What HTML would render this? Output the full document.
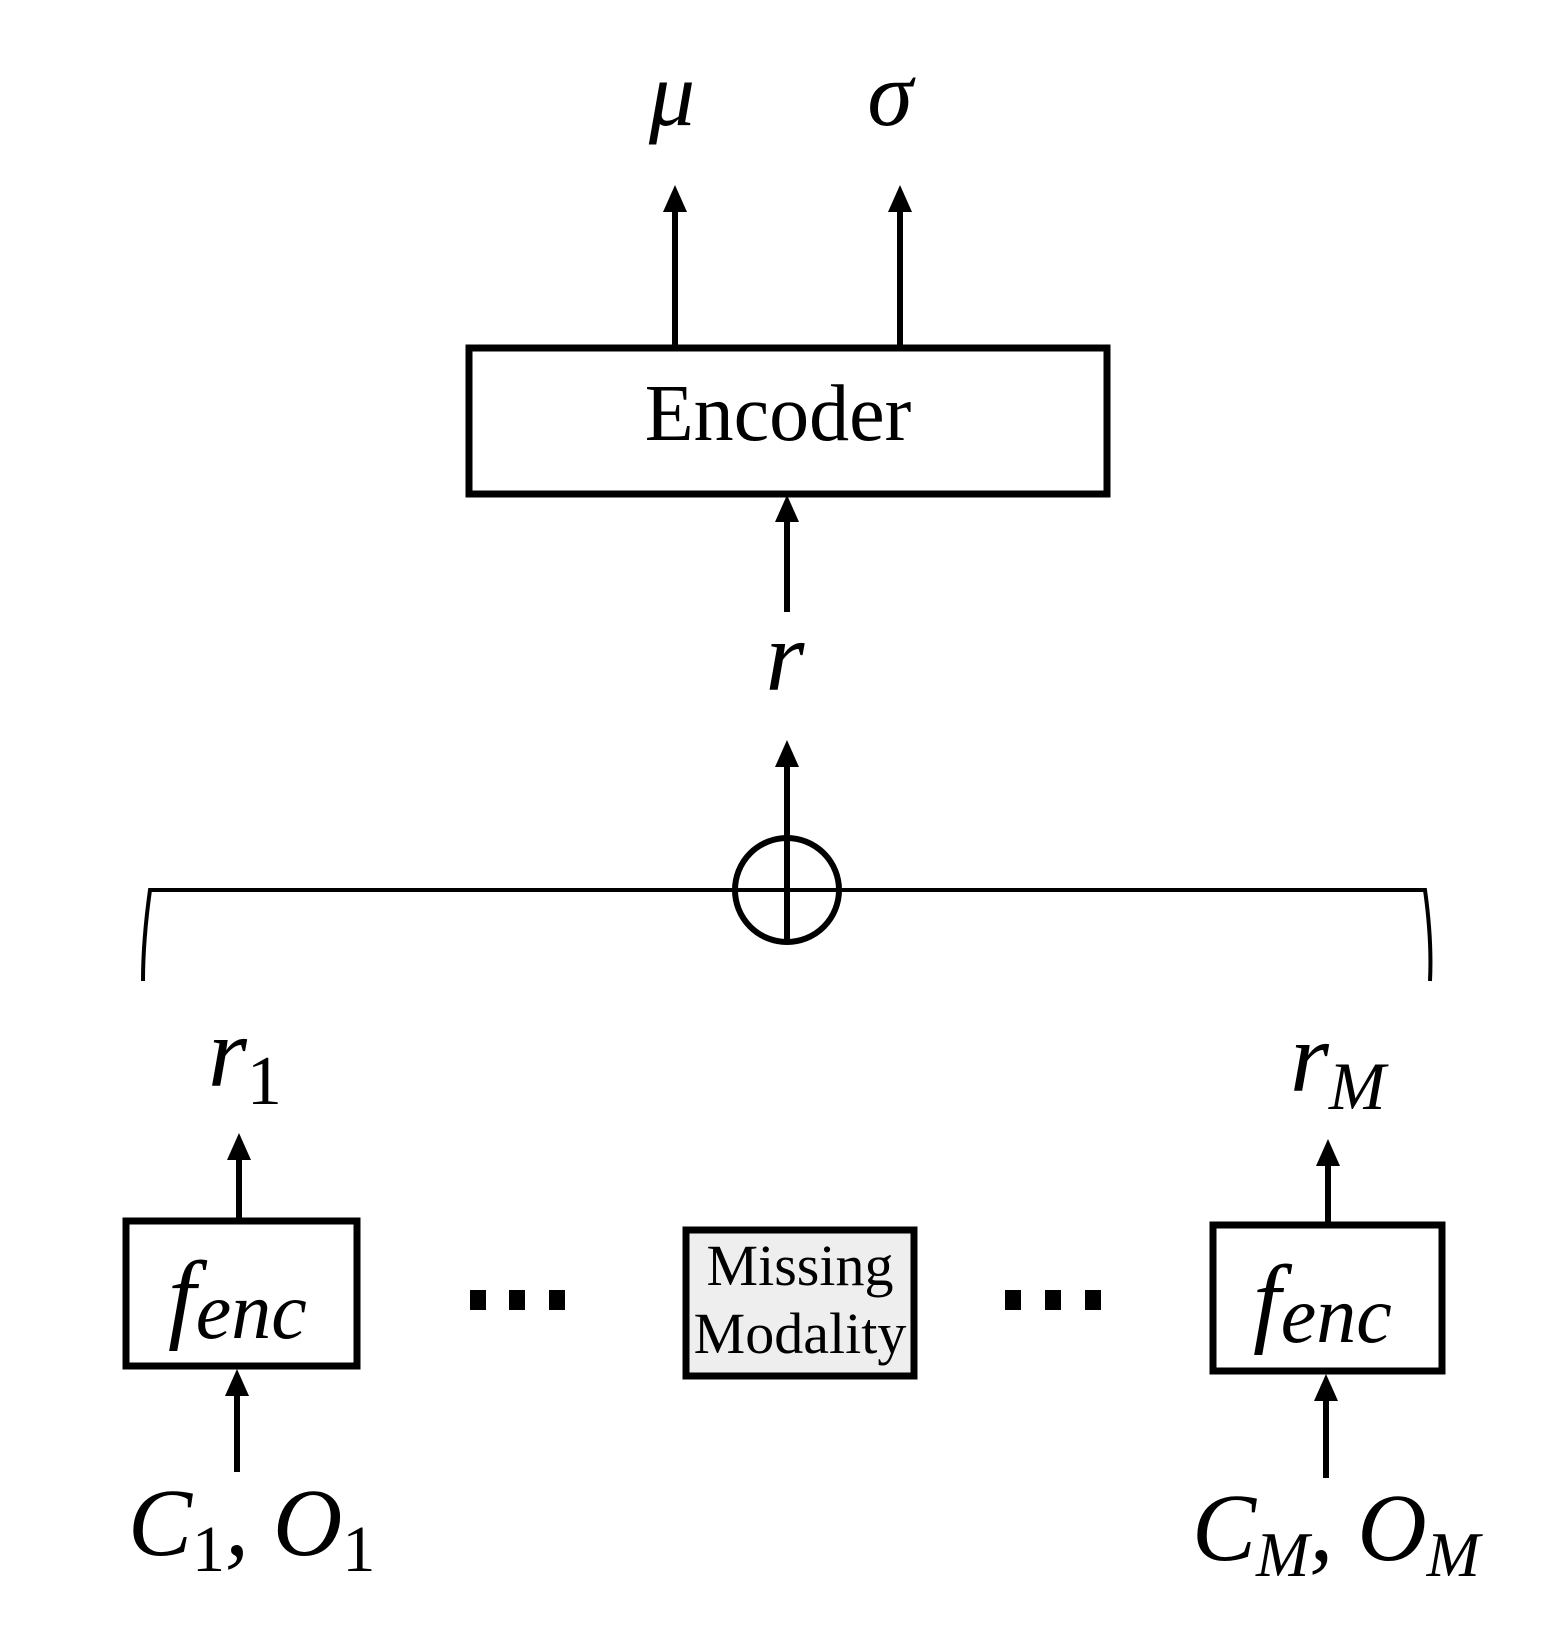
<!DOCTYPE html>
<html><head><meta charset="utf-8"><style>
html,body{margin:0;padding:0;background:#fff;}
svg{display:block;}
.m{font-family:"Liberation Serif",serif;font-style:italic;fill:#000;}
.t{font-family:"Liberation Serif",serif;fill:#000;}
</style></head><body>
<svg width="1568" height="1649" viewBox="0 0 1568 1649" xmlns="http://www.w3.org/2000/svg">
<g stroke="#000" stroke-width="6" fill="none">
<rect x="469" y="348" width="638" height="146" stroke-width="7"/>
<line x1="675" y1="345" x2="675" y2="205"/>
<line x1="900" y1="345" x2="900" y2="205"/>
<line x1="787" y1="612" x2="787" y2="515"/>
<line x1="787" y1="890" x2="787" y2="760"/>
<circle cx="787" cy="890" r="52"/>
<line x1="787" y1="838" x2="787" y2="942"/>
<path d="M143 981 Q143 940 150 890 L1425 890 Q1432 940 1430 981" stroke-width="4"/>
<rect x="126" y="1221" width="231" height="145" stroke-width="7"/>
<line x1="239" y1="1218" x2="239" y2="1155"/>
<line x1="237" y1="1472" x2="237" y2="1390"/>
<rect x="686" y="1230" width="228" height="146" fill="#eeeeee" stroke-width="7"/>
<rect x="1213" y="1225" width="229" height="146" stroke-width="7"/>
<line x1="1328" y1="1222" x2="1328" y2="1162"/>
<line x1="1326" y1="1478" x2="1326" y2="1395"/>
</g>
<g fill="#000">
<polygon points="675,185 663,212 687,212"/>
<polygon points="900,185 888,212 912,212"/>
<polygon points="787,495 775,522 799,522"/>
<polygon points="787,740 775,767 799,767"/>
<polygon points="239,1133 227,1160 251,1160"/>
<polygon points="237,1369 225,1396 249,1396"/>
<polygon points="1328,1139 1316,1166 1340,1166"/>
<polygon points="1326,1374 1314,1401 1338,1401"/>
<rect x="470" y="1290" width="16" height="20"/>
<rect x="509" y="1290" width="16" height="20"/>
<rect x="549" y="1290" width="16" height="20"/>
<rect x="1005" y="1290" width="16" height="20"/>
<rect x="1045" y="1290" width="16" height="20"/>
<rect x="1085" y="1290" width="16" height="20"/>
</g>
<text class="m" x="672" y="125" font-size="92" text-anchor="middle">μ</text>
<text class="m" x="890" y="125" font-size="92" text-anchor="middle">σ</text>
<text class="t" x="778" y="440" font-size="80" text-anchor="middle">Encoder</text>
<text class="m" x="785" y="690" font-size="100" text-anchor="middle">r</text>
<text class="m" x="208" y="1086" font-size="100">r<tspan font-style="normal" font-size="70" dy="18">1</tspan></text>
<text class="m" x="1290" y="1091" font-size="100">r<tspan font-size="68" dy="18">M</tspan></text>
<text class="m" x="168" y="1330" font-size="100">f<tspan font-size="80" dy="8">enc</tspan></text>
<text class="m" x="1253" y="1334" font-size="100">f<tspan font-size="80" dy="8">enc</tspan></text>
<text class="t" x="800" y="1285" font-size="58" text-anchor="middle">Missing</text>
<text class="t" x="800" y="1353" font-size="58" text-anchor="middle">Modality</text>
<text class="m" x="128" y="1555" font-size="96">C<tspan font-style="normal" font-size="66" dy="16">1</tspan><tspan dy="-16">, O</tspan><tspan font-style="normal" font-size="66" dy="16">1</tspan></text>
<text class="m" x="1192" y="1560" font-size="96">C<tspan font-size="64" dy="16">M</tspan><tspan dy="-16">, O</tspan><tspan font-size="64" dy="16">M</tspan></text>
</svg>
</body></html>
